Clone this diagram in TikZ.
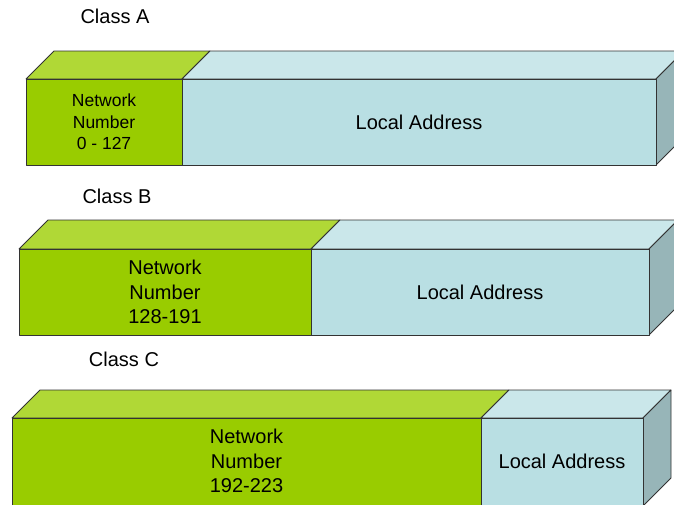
\documentclass[tikz,border=0pt]{standalone}
\usepackage{fontspec}
\setmainfont{Liberation Sans}

\definecolor{netfront}{HTML}{99CC00}
\definecolor{nettop}{HTML}{B0D836}
\definecolor{locfront}{HTML}{B9DFE3}
\definecolor{loctop}{HTML}{CAE7EA}
\definecolor{locside}{HTML}{97B5B8}
\definecolor{edge}{HTML}{333333}

% One address bar drawn as a box in oblique projection:
% #1 left, #2 top of front face, #3 network/local divider, #4 right,
% #5 depth, #6 height of the front face
\newcommand\addrbar[6]{%
  \filldraw[face,fill=nettop] (#1,#2) -- ++(#5,-#5) -- ({#3+#5},{#2-#5}) -- (#3,#2) -- cycle;
  \filldraw[face,fill=loctop] (#3,#2) -- ++(#5,-#5) -- ({#4+#5},{#2-#5}) -- (#4,#2) -- cycle;
  \filldraw[face,fill=locside] (#4,#2) -- ++(#5,-#5) -- ++(0,#6) -- (#4,{#2+#6}) -- cycle;
  \filldraw[face,fill=netfront] (#1,#2) rectangle (#3,{#2+#6});
  \filldraw[face,fill=locfront] (#3,#2) rectangle (#4,{#2+#6});
}

\begin{document}
\begin{tikzpicture}[x=1pt,y=-1pt,
  face/.style={draw=edge,line width=0.8pt,line join=round},
  lbl/.style={inner sep=0pt,font=\fontsize{20}{24.5}\selectfont,align=center},
  title/.style={lbl,anchor=base}]
\useasboundingbox (0,0) rectangle (674,504);
\clip (0,0) rectangle (674,504);

\addrbar{26}{79}{182}{656}{28}{86}
\addrbar{19}{249}{311}{649}{29}{86}
\addrbar{12}{418}{481}{643}{28}{88}

\node[title] (classA) at (115,23) {Class A};
\node[title] (classB) at (117,203) {Class B};
\node[title] (classC) at (124,366) {Class C};

\node[lbl,font=\fontsize{17.5}{21.5}\selectfont] (netA) at (104,122) {Network\\Number\\0 - 127};
\node[lbl] (locA) at (419,122) {Local Address};

\node[lbl] (netB) at (165,292) {Network\\Number\\128-191};
\node[lbl] (locB) at (480,292) {Local Address};

\node[lbl] (netC) at (246.5,461) {Network\\Number\\192-223};
\node[lbl] (locC) at (562,461) {Local Address};
\end{tikzpicture}
\end{document}
